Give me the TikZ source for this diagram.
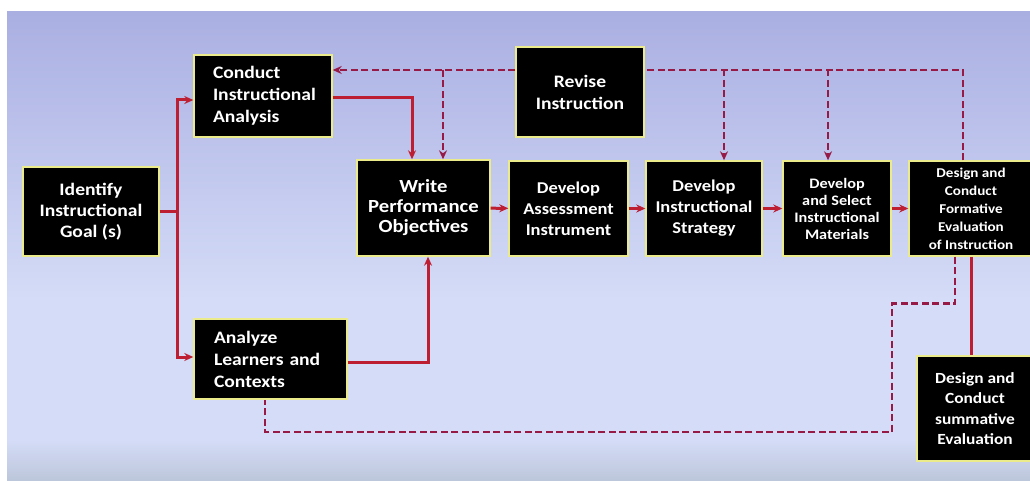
\documentclass[tikz,border=0pt]{standalone}
\usepackage{fontspec}
\setmainfont{Carlito}[FakeStretch=1.12]
\usepackage{tikz}
\usetikzlibrary{positioning,arrows.meta,shapes}
\usepackage{xcolor}
\definecolor{bgtop}{RGB}{170,175,226}
\definecolor{bgmid}{RGB}{212,220,247}
\definecolor{bgbot}{RGB}{188,198,218}
\definecolor{flowred}{RGB}{190,30,50}
\definecolor{backred}{RGB}{150,25,70}
\definecolor{boxedge}{RGB}{235,235,140}
\newcommand{\boxfont}[2]{\bfseries\fontsize{#1}{#2}\selectfont}

\begin{document}
\begin{tikzpicture}[x=1pt,y=-1pt,
    stepbox/.style={draw=boxedge, line width=1.4pt, fill=black, text=white,
        font=\boxfont{17.5}{22}, inner sep=1pt, align=center},
    flow/.style={-{Stealth[length=9pt,width=8pt]}, flowred, line width=3pt},
    feedback/.style={backred, line width=2.8pt, dash pattern=on 7pt off 3.5pt},
    fbarrow/.style={feedback, -{Stealth[length=9pt,width=8pt]}}]
        % Frame and background
        \useasboundingbox (0,0) rectangle (1030,481);
        \fill[white] (0,0) rectangle (1030,481);
        \shade[top color=bgtop, bottom color=bgmid] (7,12) rectangle (1030,300);
        \fill[bgmid] (7,299) rectangle (1030,441);
        \shade[top color=bgmid, bottom color=bgbot] (7,440) rectangle (1030,481);

        % Steps
        \node[stepbox, minimum width=136pt, minimum height=89pt, font=\boxfont{17.5}{21}] (goal) at (91,211.5) {Identify\\Instructional\\Goal (s)};
        \node[stepbox, minimum width=138pt, minimum height=82pt, align=left, text width=100pt] (conduct) at (263,96) {Conduct\\Instructional\\Analysis};
        \node[stepbox, minimum width=153pt, minimum height=80pt, align=left, text width=113pt] (analyze) at (270.5,359) {Analyze\\Learners and\\Contexts};
        \node[stepbox, minimum width=133pt, minimum height=96pt, font=\boxfont{18.5}{20}] (write) at (423.5,208) {Write\\Performance\\Objectives};
        \node[stepbox, minimum width=128pt, minimum height=90pt] (revise) at (580,92) {Revise\\Instruction};
        \node[stepbox, minimum width=119pt, minimum height=95pt, font=\boxfont{16.5}{21}] (assess) at (568.5,208.5) {Develop\\Assessment\\Instrument};
        \node[stepbox, minimum width=116pt, minimum height=95pt, font=\boxfont{16.5}{21}] (strategy) at (704,208.5) {Develop\\Instructional\\Strategy};
        \node[stepbox, minimum width=108pt, minimum height=95pt, font=\boxfont{14.5}{17}] (materials) at (837,208.5) {Develop\\and Select\\Instructional\\Materials};
        \node[stepbox, minimum width=124pt, minimum height=95pt, font=\boxfont{13.5}{18}] (formative) at (971,208.5) {Design and\\Conduct\\Formative\\Evaluation\\of Instruction};
        \node[stepbox, minimum width=116pt, minimum height=105pt, font=\boxfont{15.5}{20.5}] (summative) at (975,408.5) {Design and\\Conduct\\summative\\Evaluation};

        % Forward flow
        \coordinate (split) at (177,211.5);
        \draw[flowred, line width=3pt] (goal.east) -- (split);
        \draw[flow] (split) |- ([yshift=-4pt]conduct.west);
        \draw[flow] (split) |- ([yshift=2pt]analyze.west);
        \draw[flow] ([yshift=-2pt]conduct.east) -| ([xshift=-11.5pt]write.north);
        \draw[flow] ([yshift=-3pt]analyze.east) -| ([xshift=4.5pt]write.south);
        \draw[flow] (write) -- (assess);
        \draw[flow] (assess) -- (strategy);
        \draw[flow] (strategy) -- (materials);
        \draw[flow] (materials) -- (formative);
        \draw[flowred, line width=3pt] (formative.south) -- (formative.south |- summative.north);

        % Revision feedback
        \draw[fbarrow] ([yshift=22pt]revise.west) -- ([yshift=26pt]conduct.east);
        \draw[fbarrow] ([xshift=19.5pt]write.north |- revise.west) ++(0,-22) -- ([xshift=19.5pt]write.north);
        \draw[feedback] ([xshift=-8pt]formative.north) |- ([yshift=22pt]revise.east);
        \draw[fbarrow] ([xshift=20pt]strategy.north) ++(0,-91) -- ([xshift=20pt]strategy.north);
        \draw[fbarrow] ([xshift=-9pt]materials.north) ++(0,-91) -- ([xshift=-9pt]materials.north);
        \draw[feedback] ([xshift=-16pt]formative.south) -- ++(0,47) -| (892,432) -| ([xshift=-5.5pt]analyze.south);
    \end{tikzpicture}
\end{document}
